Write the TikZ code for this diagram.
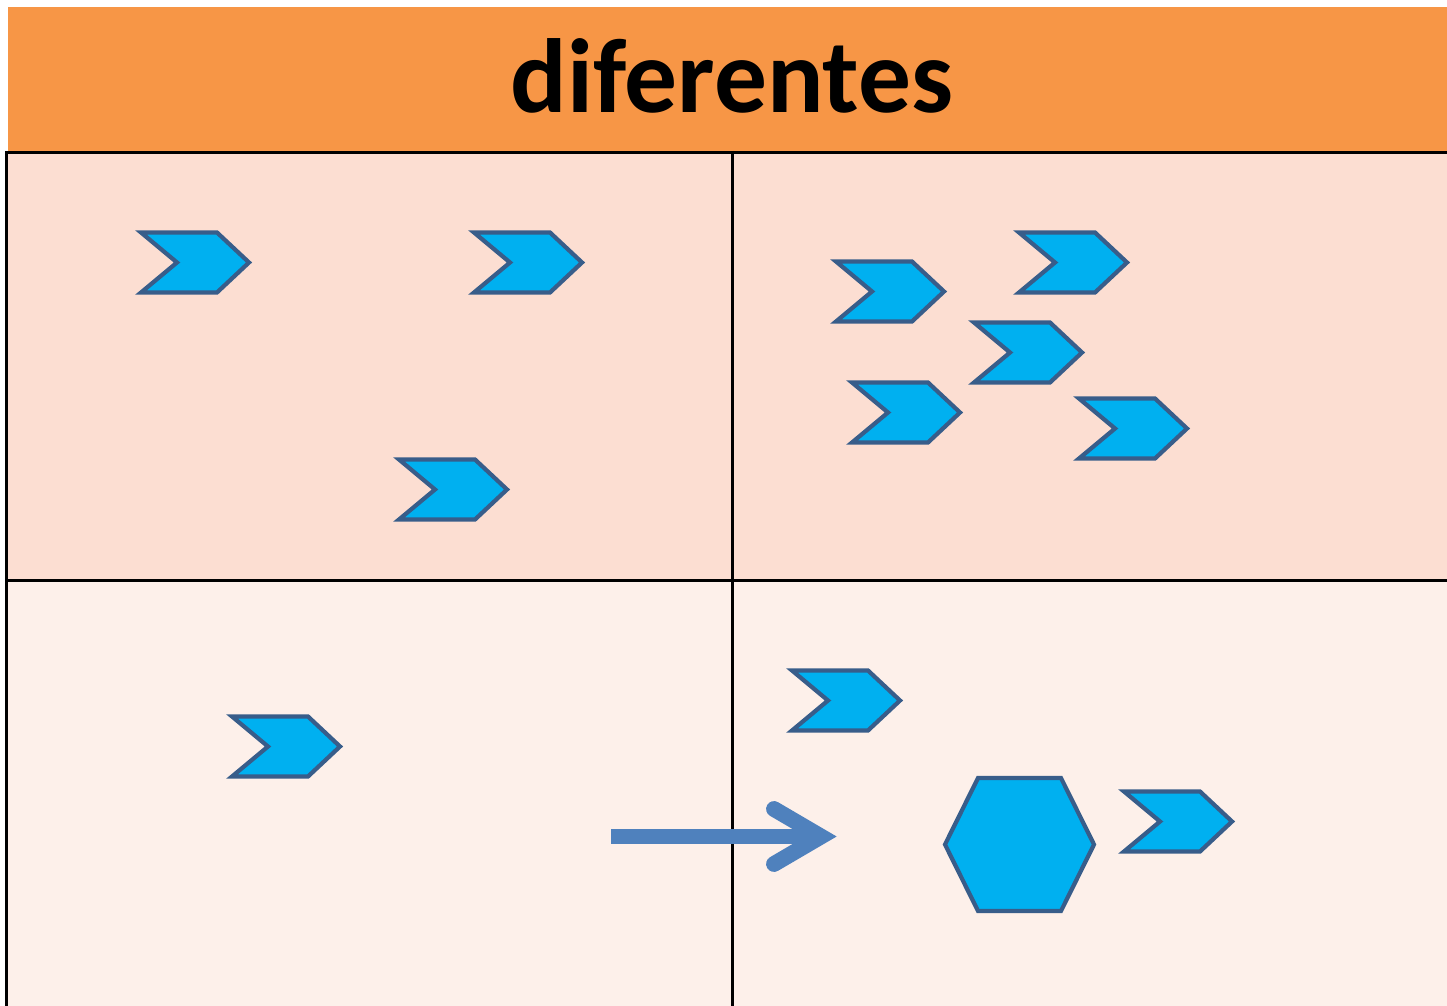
\documentclass[tikz,border=0pt]{standalone}
\usepackage{fontspec}
\setmainfont{Carlito}
\usepackage{tikz}
\definecolor{corange}{HTML}{F79646}
\definecolor{cpeach}{HTML}{FCDED2}
\definecolor{cpale}{HTML}{FDF0EA}
\definecolor{ccyan}{HTML}{00B0F0}
\definecolor{cdark}{HTML}{385D8A}
\definecolor{carrow}{HTML}{4F81BD}

\begin{document}
\begin{tikzpicture}[
  x=0.02cm,y=-0.02cm,
  grid/.style={draw=black,line width=1.7pt},
  shp/.style={fill=ccyan,draw=cdark,line width=2.4pt,line join=miter},
  chevron/.pic={\path[shp] (-54,-30) -- ++(76,0) -- ++(32,30) -- ++(-32,30)
    -- ++(-76,0) -- ++(36,-30) -- cycle;}]
  \useasboundingbox (0,0) rectangle (1447,1006);
  \fill[corange] (8,7) rectangle (1447,152);
  \fill[cpeach] (6,152) rectangle (1447,580.5);
  \fill[cpale] (6,580.5) rectangle (1447,1006);
  \node[font=\fontsize{60}{64}\selectfont\bfseries,anchor=base,inner sep=0pt] (title) at (732,113) {diferentes};
  \draw[grid] (5,152.5) -- (1447,152.5);
  \draw[grid] (5,580.5) -- (1447,580.5);
  \draw[grid] (6.5,151) -- (6.5,1006);
  \draw[grid] (732.5,151) -- (732.5,1006);
  \foreach \cx/\cy in {195/262.5,528/262.5,453/489.5,890/291.5,1073/262.5,
      1028/352.5,906/412.5,1133/428.5,286/746.5,846/700.5,1178/821.5}
    \pic at (\cx,\cy) {chevron};
  \path[shp] (945,844.5) -- (978,778) -- (1061,778) -- (1094,844.5)
    -- (1061,911) -- (978,911) -- cycle;
  \coordinate (tail) at (611,836.5);
  \coordinate (tip) at (821,836.5);
  \draw[carrow,line width=9pt] (tail) -- ([xshift=-0.1cm]tip);
  \draw[carrow,line width=9pt,line cap=round,line join=miter]
    (774,809) -- (tip) -- (774,864);
\end{tikzpicture}
\end{document}
